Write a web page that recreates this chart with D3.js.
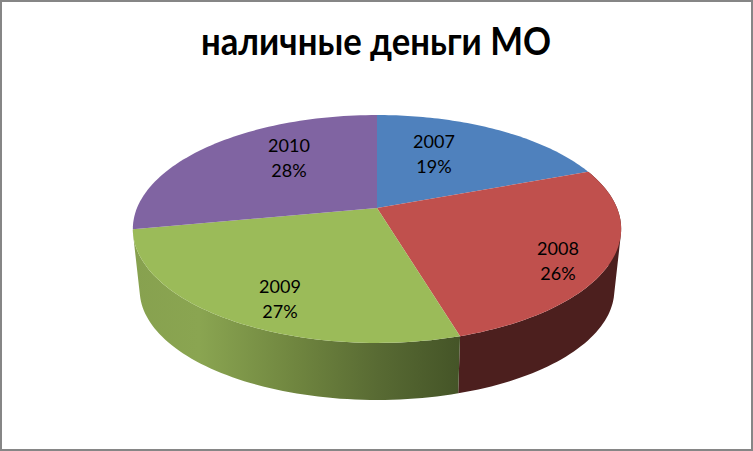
<!DOCTYPE html>
<html><head><meta charset="utf-8">
<script src="https://cdn.jsdelivr.net/npm/d3@7"></script>
<style>html,body{margin:0;padding:0;background:#fff}svg{display:block}</style>
</head><body><svg id="c" width="753" height="451"></svg>
<script>
const titleText = "наличные деньги МО";
const categories = ["2007","2008","2009","2010"];
const values = [19.3, 26.1, 26.6, 28.0];
const topColors = ["#4F81BD","#C0504D","#9BBB59","#8064A2"];

// layout
const W=753,H=451,cx=377;
const topRim={y0:208,R:240,A:110.1,c:-0.184};
const botRim={y0:269.1,R:233,A:106,c:-0.19};
const labelAnchors=[[434,154],[558,261],[280,299],[289,158]];

const project=(rim,a)=>{
  const u=Math.sin(a),v=-Math.cos(a),d=1+rim.c*v;
  return [cx+rim.R*u/d, rim.y0+rim.A*v/d];
};
const svg=d3.select("#c");
svg.append("rect").attr("x",1).attr("y",1).attr("width",W-2).attr("height",H-2)
  .attr("fill","#fff").attr("stroke","#868686").attr("stroke-width",2);
svg.append("text").attr("x",376).attr("y",55).attr("text-anchor","middle")
  .attr("font-family","Lato, 'Open Sans', sans-serif").attr("font-weight",700).attr("font-size",39)
  .attr("textLength",350).attr("lengthAdjust","spacingAndGlyphs")
  .attr("fill","#000").text(titleText);

const pie=d3.pie().sort(null).value(d=>d);
const arcs=pie(values);
const total=d3.sum(values);
const line=d3.line();
const angles=(a0,a1)=>d3.range(0,65).map(i=>a0+(a1-a0)*i/64);

const defs=svg.append("defs");
const gGreen=defs.append("linearGradient").attr("id","wallGreen").attr("gradientUnits","userSpaceOnUse")
  .attr("x1",133).attr("x2",461).attr("y1",0).attr("y2",0);
[[0,"#87A14F"],[0.2,"#8AA551"],[0.5,"#6F853F"],[0.75,"#586A33"],[1,"#445427"]].forEach(s=>
  gGreen.append("stop").attr("offset",s[0]).attr("stop-color",s[1]));
const wallFill=["#3F5F87","#4C1F1E","url(#wallGreen)","#5C4875"];

// side wall: narrow quads, all wound the same way, merged into one path per slice
// so the outline follows the rim silhouette without seams.
const wallLayer=svg.append("g");
arcs.forEach((d,i)=>{
  if(d.endAngle<=Math.PI/2 || d.startAngle>=1.4*Math.PI) return;
  const as=angles(d.startAngle,d.endAngle);
  const path=d3.pairs(as).map(([a,b])=>{
    const q=[project(topRim,a),project(topRim,b),project(botRim,b),project(botRim,a)];
    if(d3.polygonArea(q)<0) q.reverse();
    return line(q)+"Z";
  }).join("");
  wallLayer.append("path").attr("d",path).attr("fill",wallFill[i]).attr("fill-rule","nonzero");
});
// top face
const faceLayer=svg.append("g");
arcs.forEach((d,i)=>{
  const pts=[[cx,topRim.y0]].concat(angles(d.startAngle,d.endAngle).map(a=>project(topRim,a)));
  faceLayer.append("path").attr("d",line(pts)+"Z").attr("fill",topColors[i]);
});
// labels
const lab=svg.append("g").attr("font-family","Lato, sans-serif").attr("font-size",18).attr("fill","#000").attr("text-anchor","middle");
arcs.forEach((d,i)=>{
  const [x,y]=labelAnchors[i];
  lab.append("text").attr("x",x).attr("y",y-6).text(categories[i]);
  lab.append("text").attr("x",x).attr("y",y+19).text(d3.format(".0%")(d.value/total));
});
</script></body></html>
